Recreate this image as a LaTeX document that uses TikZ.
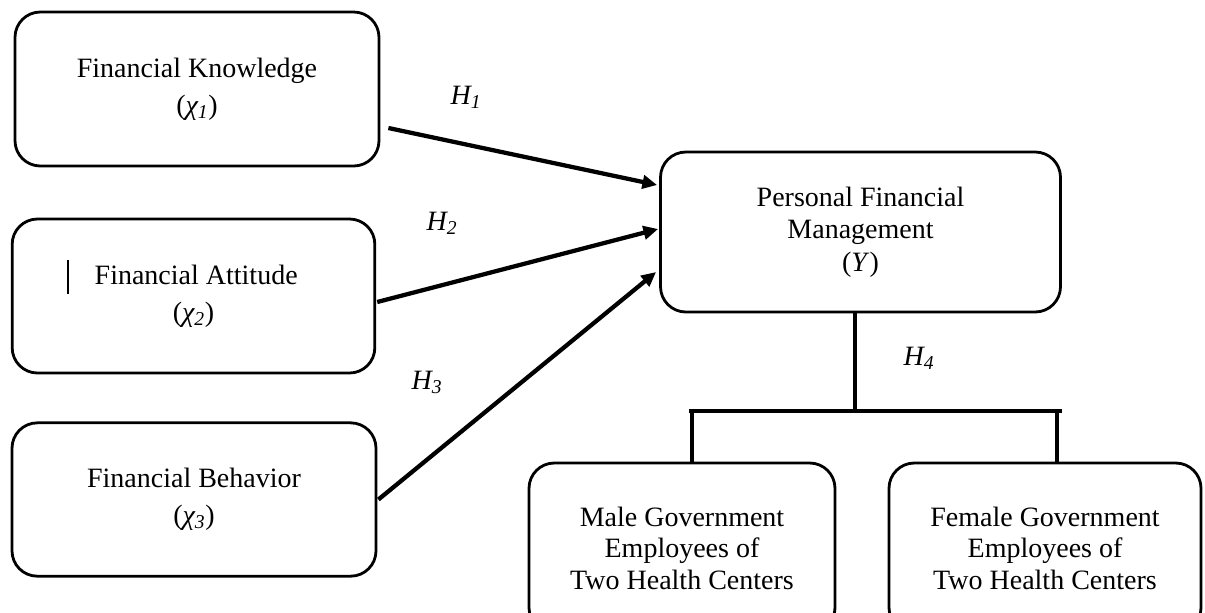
\documentclass[tikz,border=0pt]{standalone}
\usepackage{fontspec}
\setmainfont{Liberation Serif}
\usetikzlibrary{arrows.meta,calc}
\begin{document}
\begin{tikzpicture}[x=0.75pt,y=-0.75pt,
  box/.style={draw=black,line width=2.1pt,rounded corners=19pt,align=center,inner sep=0pt,
    font=\fontsize{21}{27.5}\selectfont},
  lbl/.style={inner sep=0pt,font=\fontsize{21}{25}\selectfont\itshape},
  arr/.style={line width=3.2pt,-{Triangle[length=11pt,width=10pt]}},
  conn/.style={line width=2.3pt}]
\useasboundingbox (0,0) rectangle (1205,612);
\node[box,minimum width=273pt,minimum height=115.5pt] (b1) at (197,89)
  {Financial Knowledge\\(\textit{χ\textsubscript{1}})};
\node[box,minimum width=272pt,minimum height=115.5pt] (b2) at (193.5,296)
  {\hspace{4pt}Financial Attitude\\(\textit{χ\textsubscript{2}})};
\node[box,minimum width=273pt,minimum height=115pt] (b3) at (194,499.5)
  {Financial Behavior\\(\textit{χ\textsubscript{3}})};
\node[box,minimum width=300pt,minimum height=120pt,font=\fontsize{21}{24.5}\selectfont] (pfm) at (860.5,232)
  {Personal Financial\\Management\\(\textit{Υ})};
\node[box,minimum width=229.5pt,minimum height=127.5pt,font=\fontsize{21}{23.6}\selectfont] (male) at (682,548)
  {Male Government\\Employees of\\Two Health Centers};
\node[box,minimum width=234pt,minimum height=127.5pt,font=\fontsize{21}{23.6}\selectfont] (female) at (1045,548)
  {Female Government\\Employees of\\Two Health Centers};
% stray vertical mark in the attitude box
\draw[line width=1.4pt] (68,260) -- (68,294);
% arrows
\draw[arr] ($(b1.east)+(8,39)$) -- ($(pfm.west)+(-2,-47)$);
\draw[arr] ($(b2.east)+(1,6)$) -- ($(pfm.west)+(-1,-3)$);
\draw[arr] ($(b3.east)+(1,0)$) -- ($(pfm.west)+(-3,40)$);
% labels
\node[lbl] (h1) at (466,97) {H\textsubscript{1}};
\node[lbl] (h2) at (442,223) {H\textsubscript{2}};
\node[lbl] (h3) at (427,382) {H\textsubscript{3}};
\node[lbl] (h4) at (919,358) {H\textsubscript{4}};
% bracket
\coordinate (j) at (855,411);
\coordinate (bl) at (689,411);
\coordinate (br) at (1062,411);
\coordinate (dl) at (692,411);
\coordinate (dr) at (1057,411);
\draw[conn] (pfm.south -| j) -- (j);
\draw[conn] (bl) -- (br);
\draw[conn] (dl) -- (dl |- male.north);
\draw[conn] (dr) -- (dr |- female.north);
\end{tikzpicture}
\end{document}
